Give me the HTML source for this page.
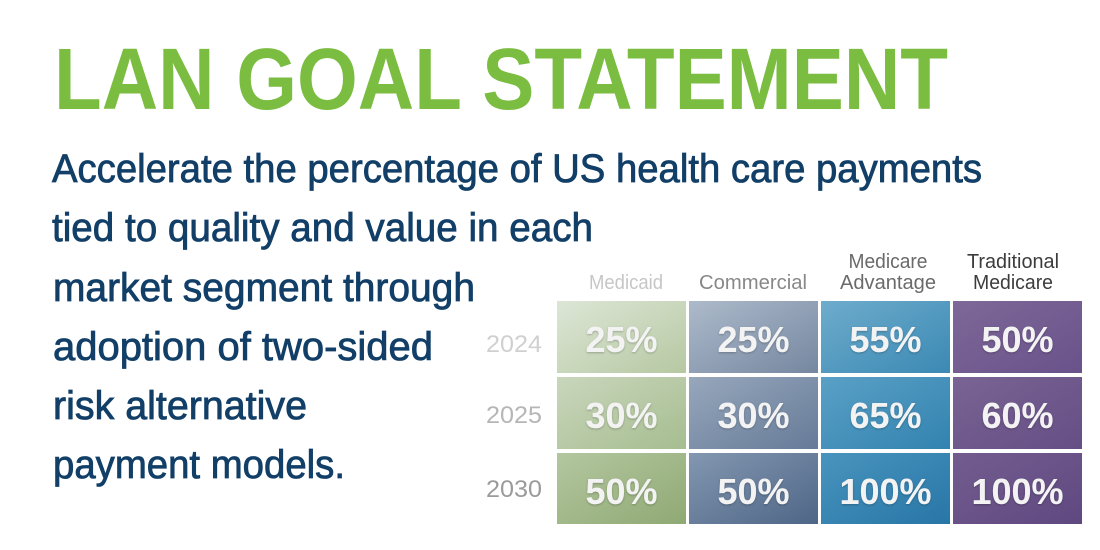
<!DOCTYPE html>
<html>
<head>
<meta charset="utf-8">
<style>
  html,body{margin:0;padding:0;background:#fff;}
  svg{display:block;}
</style>
</head>
<body>
<svg width="1100" height="550" viewBox="0 0 1100 550" xmlns="http://www.w3.org/2000/svg">
  <defs>
    <linearGradient id="g11" x1="0" y1="0" x2="1" y2="1"><stop offset="0" stop-color="#dde6d6"/><stop offset="1" stop-color="#b6c8a2"/></linearGradient>
    <linearGradient id="g12" x1="0" y1="0" x2="1" y2="1"><stop offset="0" stop-color="#c9d6bc"/><stop offset="1" stop-color="#a6bd90"/></linearGradient>
    <linearGradient id="g13" x1="0" y1="0" x2="1" y2="1"><stop offset="0" stop-color="#b4c7a0"/><stop offset="1" stop-color="#8fa974"/></linearGradient>

    <linearGradient id="g21" x1="0" y1="0" x2="1" y2="1"><stop offset="0" stop-color="#adbacb"/><stop offset="1" stop-color="#7587a0"/></linearGradient>
    <linearGradient id="g22" x1="0" y1="0" x2="1" y2="1"><stop offset="0" stop-color="#97a7bc"/><stop offset="1" stop-color="#667b98"/></linearGradient>
    <linearGradient id="g23" x1="0" y1="0" x2="1" y2="1"><stop offset="0" stop-color="#8397b0"/><stop offset="1" stop-color="#4e6687"/></linearGradient>

    <linearGradient id="g31" x1="0" y1="0" x2="1" y2="1"><stop offset="0" stop-color="#6eaccc"/><stop offset="1" stop-color="#3b89b4"/></linearGradient>
    <linearGradient id="g32" x1="0" y1="0" x2="1" y2="1"><stop offset="0" stop-color="#5aa0c6"/><stop offset="1" stop-color="#3283b0"/></linearGradient>
    <linearGradient id="g33" x1="0" y1="0" x2="1" y2="1"><stop offset="0" stop-color="#4994be"/><stop offset="1" stop-color="#2876a7"/></linearGradient>

    <linearGradient id="g41" x1="0" y1="0" x2="1" y2="1"><stop offset="0" stop-color="#7e6898"/><stop offset="1" stop-color="#68528a"/></linearGradient>
    <linearGradient id="g42" x1="0" y1="0" x2="1" y2="1"><stop offset="0" stop-color="#7a6494"/><stop offset="1" stop-color="#644e84"/></linearGradient>
    <linearGradient id="g43" x1="0" y1="0" x2="1" y2="1"><stop offset="0" stop-color="#735d8f"/><stop offset="1" stop-color="#5e4880"/></linearGradient>

    <filter id="sh" x="-20%" y="-20%" width="140%" height="140%">
      <feDropShadow dx="0" dy="1" stdDeviation="1" flood-color="#000" flood-opacity="0.25"/>
    </filter>
  </defs>

  <!-- Title -->
  <text x="54" y="109" font-family="Liberation Sans, sans-serif" font-weight="bold" font-size="87" fill="#7bbd41" textLength="894" lengthAdjust="spacingAndGlyphs">LAN GOAL STATEMENT</text>

  <!-- Body text -->
  <g font-family="Liberation Sans, sans-serif" font-size="40" fill="#123f67" stroke="#123f67" stroke-width="0.8">
    <text x="52" y="182" textLength="930" lengthAdjust="spacingAndGlyphs">Accelerate the percentage of US health care payments</text>
    <text x="52" y="241" textLength="541" lengthAdjust="spacingAndGlyphs">tied to quality and value in each</text>
    <text x="53" y="301" textLength="422" lengthAdjust="spacingAndGlyphs">market segment through</text>
    <text x="53" y="360" textLength="380" lengthAdjust="spacingAndGlyphs">adoption of two-sided</text>
    <text x="53" y="419" textLength="254" lengthAdjust="spacingAndGlyphs">risk alternative</text>
    <text x="53" y="478" textLength="292" lengthAdjust="spacingAndGlyphs">payment models.</text>
  </g>

  <!-- Column headers -->
  <g font-family="Liberation Sans, sans-serif" font-size="20" text-anchor="middle">
    <text x="626" y="289" fill="#c6c6c6" textLength="74" lengthAdjust="spacingAndGlyphs">Medicaid</text>
    <text x="753" y="289" fill="#888888" textLength="108" lengthAdjust="spacingAndGlyphs">Commercial</text>
    <text x="888" y="268" fill="#6a6a6a" textLength="79" lengthAdjust="spacingAndGlyphs">Medicare</text>
    <text x="888" y="289" fill="#6a6a6a" textLength="96" lengthAdjust="spacingAndGlyphs">Advantage</text>
    <text x="1013" y="268" fill="#3c3c3c" textLength="92" lengthAdjust="spacingAndGlyphs">Traditional</text>
    <text x="1013" y="289" fill="#3c3c3c" textLength="80" lengthAdjust="spacingAndGlyphs">Medicare</text>
  </g>

  <!-- Row labels -->
  <g font-family="Liberation Sans, sans-serif" font-size="24">
    <text x="486" y="352" fill="#d0d0d0" textLength="56" lengthAdjust="spacingAndGlyphs">2024</text>
    <text x="486" y="423" fill="#b6b6b6" textLength="56" lengthAdjust="spacingAndGlyphs">2025</text>
    <text x="486" y="497" fill="#9b9b9b" textLength="56" lengthAdjust="spacingAndGlyphs">2030</text>
  </g>

  <!-- Cells -->
  <rect x="557" y="301" width="129" height="72" fill="url(#g11)"/>
  <rect x="557" y="377" width="129" height="72" fill="url(#g12)"/>
  <rect x="557" y="453" width="129" height="71" fill="url(#g13)"/>

  <rect x="689" y="301" width="129" height="72" fill="url(#g21)"/>
  <rect x="689" y="377" width="129" height="72" fill="url(#g22)"/>
  <rect x="689" y="453" width="129" height="71" fill="url(#g23)"/>

  <rect x="821" y="301" width="129" height="72" fill="url(#g31)"/>
  <rect x="821" y="377" width="129" height="72" fill="url(#g32)"/>
  <rect x="821" y="453" width="129" height="71" fill="url(#g33)"/>

  <rect x="953" y="301" width="129" height="72" fill="url(#g41)"/>
  <rect x="953" y="377" width="129" height="72" fill="url(#g42)"/>
  <rect x="953" y="453" width="129" height="71" fill="url(#g43)"/>

  <!-- Cell values -->
  <g font-family="Liberation Sans, sans-serif" font-weight="bold" font-size="36" fill="#f3f3f3" text-anchor="middle" filter="url(#sh)">
    <text x="621.5" y="352">25%</text>
    <text x="621.5" y="428">30%</text>
    <text x="621.5" y="504">50%</text>

    <text x="753.5" y="352">25%</text>
    <text x="753.5" y="428">30%</text>
    <text x="753.5" y="504">50%</text>

    <text x="885.5" y="352">55%</text>
    <text x="885.5" y="428">65%</text>
    <text x="885.5" y="504">100%</text>

    <text x="1017.5" y="352">50%</text>
    <text x="1017.5" y="428">60%</text>
    <text x="1017.5" y="504">100%</text>
  </g>
</svg>
</body>
</html>
